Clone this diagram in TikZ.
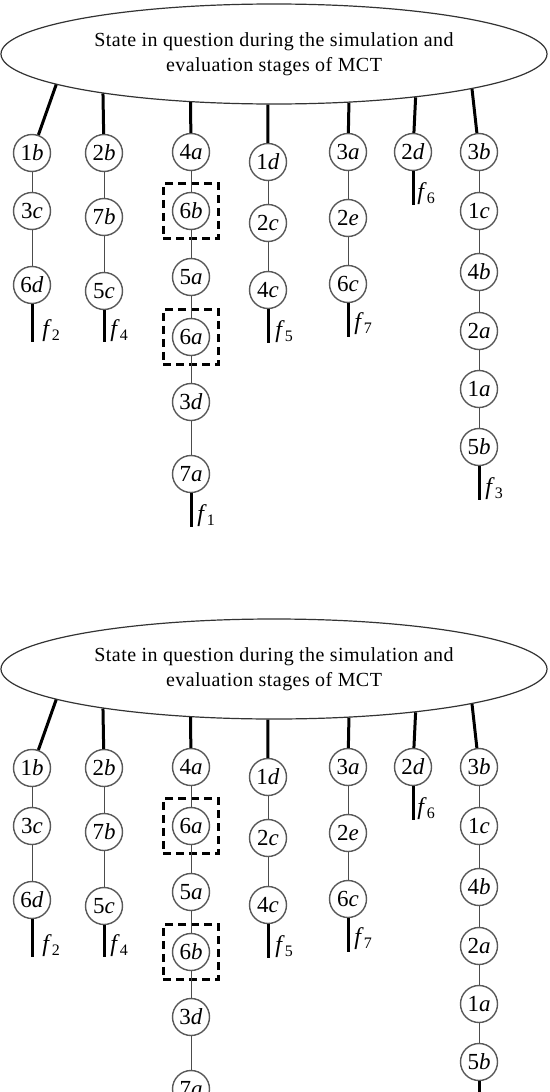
\documentclass[tikz,border=0pt]{standalone}
\usepackage{fontspec}
\setmainfont{Liberation Serif}
\newfontfamily\ellfont[LetterSpace=2.2]{Liberation Serif}
\usetikzlibrary{shapes.geometric, positioning, fit}

\begin{document}
\begin{tikzpicture}[
	  x=0.5pt, y=-0.5pt,
	  state/.style={ellipse, draw=black!80, line width=0.6pt, minimum width=273pt, minimum height=50pt, inner sep=0pt, align=center, font=\ellfont\fontsize{10}{12.5}\selectfont},
	  act/.style={circle, draw=black!65, line width=0.7pt, minimum size=18.5pt, inner sep=0pt, fill=white, font=\fontsize{11.5}{12}\selectfont},
	  selbox/.style={rectangle, draw=black, line width=1.3pt, dash pattern=on 4pt off 2.5pt, inner sep=4.2pt},
	  branch/.style={line width=1.5pt, black},
	  link/.style={line width=0.5pt, black!70},
	  leaf/.style={line width=1.5pt, black},
	  flab/.style={inner sep=0pt, font=\fontsize{12}{13}\selectfont}
	]

	\useasboundingbox (0,0) rectangle (550,1092);

	\foreach \dy/\s/\ul/\ll in {0/t/b/a, 615/u/a/b} {
	\begin{scope}[shift={(0,\dy)}]

	\node (\s-st) [state] at (274,54) {State in question during the simulation and\\evaluation stages of MCT};

	% first column
	\node (\s-1b) [act] at (32,153) {1\textit{b}};
	\node (\s-3c) [act] at (32,211) {3\textit{c}};
	\node (\s-6d) [act] at (32,285) {6\textit{d}};
	% second column
	\node (\s-2b) [act] at (104,153) {2\textit{b}};
	\node (\s-7b) [act] at (104,217) {7\textit{b}};
	\node (\s-5c) [act] at (104,291) {5\textit{c}};
	% third column
	\node (\s-4a) [act] at (191,152) {4\textit{a}};
	\node (\s-up) [act] at (191,211) {6\textit{\ul}};
	\node (\s-5a) [act] at (191,277) {5\textit{a}};
	\node (\s-lo) [act] at (191,337) {6\textit{\ll}};
	\node (\s-3d) [act] at (191,402) {3\textit{d}};
	\node (\s-7a) [act] at (191,474) {7\textit{a}};
	% fourth column
	\node (\s-1d) [act] at (268,162) {1\textit{d}};
	\node (\s-2c) [act] at (268,223) {2\textit{c}};
	\node (\s-4c) [act] at (268,290) {4\textit{c}};
	% fifth column
	\node (\s-3a) [act] at (348,152) {3\textit{a}};
	\node (\s-2e) [act] at (348,218) {2\textit{e}};
	\node (\s-6c) [act] at (348,284) {6\textit{c}};
	% sixth column
	\node (\s-2d) [act] at (413,152) {2\textit{d}};
	% seventh column
	\node (\s-3b) [act] at (479,152) {3\textit{b}};
	\node (\s-1c) [act] at (479,211) {1\textit{c}};
	\node (\s-4b) [act] at (479,272) {4\textit{b}};
	\node (\s-2a) [act] at (479,331) {2\textit{a}};
	\node (\s-1a) [act] at (479,389) {1\textit{a}};
	\node (\s-5b) [act] at (479,447) {5\textit{b}};

	\node (\s-box1) [selbox, fit=(\s-up)] {};
	\node (\s-box2) [selbox, fit=(\s-lo)] {};

	% ends of the finished paths
	\coordinate [below=19pt of \s-6d] (\s-e2);
	\coordinate [below=16pt of \s-5c] (\s-e4);
	\coordinate [below=17pt of \s-7a] (\s-e1);
	\coordinate [below=17pt of \s-4c] (\s-e5);
	\coordinate [below=17pt of \s-6c] (\s-e7);
	\coordinate [below=17pt of \s-2d] (\s-e6);
	\coordinate [below=17pt of \s-5b] (\s-e3);

	\node (\s-f2) [flab, above right=0pt and 5pt of \s-e2] {\textit{f}\textsubscript{2}};
	\node (\s-f4) [flab, above right=0pt and 3pt of \s-e4] {\textit{f}\textsubscript{4}};
	\node (\s-f1) [flab, above right=0pt and 3pt of \s-e1] {\textit{f}\textsubscript{1}};
	\node (\s-f5) [flab, above right=0pt and 3.5pt of \s-e5] {\textit{f}\textsubscript{5}};
	\node (\s-f7) [flab, above right=1pt and 3pt of \s-e7] {\textit{f}\textsubscript{7}};
	\node (\s-f6) [flab, above right=0pt and 2pt of \s-e6] {\textit{f}\textsubscript{6}};
	\node (\s-f3) [flab, above right=0pt and 3pt of \s-e3] {\textit{f}\textsubscript{3}};

	\draw [branch] (\s-st.-172) -- (\s-1b);
	\draw [branch] (\s-st.-167) -- (\s-2b);
	\draw [branch] (\s-st.-150) -- (\s-4a);
	\draw [branch] (\s-st.-97) -- (\s-1d);
	\draw [branch] (\s-st.-33) -- (\s-3a);
	\draw [branch] (\s-st.-17) -- (\s-2d);
	\draw [branch] (\s-st.-10) -- (\s-3b);

	\draw [link] (\s-1b) -- (\s-3c) -- (\s-6d);
	\draw [link] (\s-2b) -- (\s-7b) -- (\s-5c);
	\draw [link] (\s-4a) -- (\s-up) -- (\s-5a) -- (\s-lo) -- (\s-3d) -- (\s-7a);
	\draw [link] (\s-1d) -- (\s-2c) -- (\s-4c);
	\draw [link] (\s-3a) -- (\s-2e) -- (\s-6c);
	\draw [link] (\s-3b) -- (\s-1c) -- (\s-4b) -- (\s-2a) -- (\s-1a) -- (\s-5b);

	\draw [leaf] (\s-6d) -- (\s-e2);
	\draw [leaf] (\s-5c) -- (\s-e4);
	\draw [leaf] (\s-7a) -- (\s-e1);
	\draw [leaf] (\s-4c) -- (\s-e5);
	\draw [leaf] (\s-6c) -- (\s-e7);
	\draw [leaf] (\s-2d) -- (\s-e6);
	\draw [leaf] (\s-5b) -- (\s-e3);

	\end{scope}
	}

\end{tikzpicture}
\end{document}
